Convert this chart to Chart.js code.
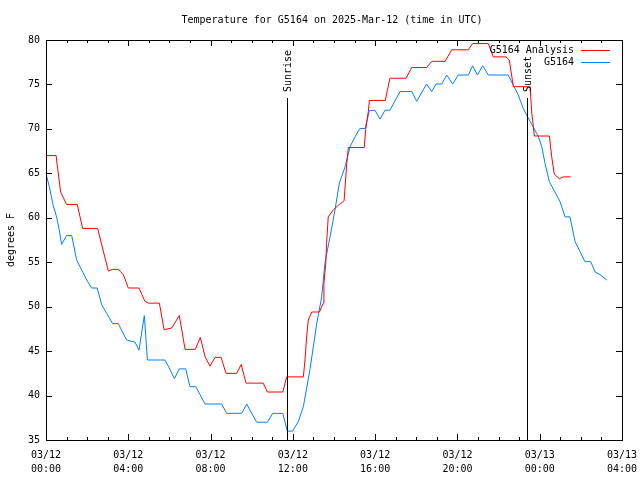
<!DOCTYPE html>
<html lang="en">
<head>
  <meta charset="UTF-8" />
  <title>G5164 Temperature</title>
  <style>
    body { margin: 0; background: #fff; }
    #wrap { width: 640px; height: 480px; }
  </style>
</head>
<body>
  <div id="wrap"><canvas id="tempChart" width="640" height="480"></canvas></div>

  <script src="https://cdn.jsdelivr.net/npm/chart.js"></script>
  <script>
    // hours since 03/12 00:00 UTC
    const analysisHours = [0.03, 0.49, 0.71, 1.0, 1.52, 1.78, 2.51, 3.03, 3.24, 3.51, 3.76, 4.0, 4.52, 4.81, 4.97,
      5.51, 5.74, 6.11, 6.48, 6.76, 7.26, 7.5, 7.73, 7.97, 8.22, 8.51, 8.75, 9.27, 9.49, 9.72, 10.56, 10.76,
      11.51, 11.7, 12.51, 12.59, 12.67, 12.75, 12.92, 13.29, 13.48, 13.51, 13.6, 13.64, 13.72, 13.97, 14.21,
      14.49, 14.54, 14.62, 14.7, 15.47, 15.54, 15.67, 15.72, 16.49, 16.59, 16.72, 17.5, 17.78, 18.5, 18.75,
      19.4, 19.72, 20.53, 20.74, 21.5, 21.74, 22.36, 22.52, 22.72, 23.53, 23.61, 23.74, 24.47, 24.58, 24.71,
      24.95, 25.15, 25.51];
    const analysisTemps = [67.0, 67.0, 62.9, 61.5, 61.5, 58.8, 58.8, 54.0, 54.2, 54.2, 53.6, 52.1, 52.1, 50.6, 50.4,
      50.4, 47.4, 47.6, 49.0, 45.2, 45.2, 46.55, 44.4, 43.3, 44.3, 44.3, 42.5, 42.5, 43.5, 41.4, 41.4, 40.4,
      40.4, 42.1, 42.1, 44.0, 46.6, 48.5, 49.4, 49.4, 50.4, 52.6, 54.9, 57.1, 60.1, 60.9, 61.4,
      61.9, 63.5, 66.1, 67.9, 67.9, 69.9, 72.0, 73.2, 73.2, 74.3, 75.7, 75.7, 76.9, 76.9, 77.6,
      77.6, 78.9, 78.9, 79.6, 79.6, 78.1, 78.1, 77.75, 74.75, 74.75, 71.9, 69.2, 69.2, 66.9, 64.9,
      64.4, 64.6, 64.6];

    const obsHours = [0.03, 0.16, 0.35, 0.52, 0.63, 0.76, 1.0, 1.25, 1.49, 1.74, 1.98, 2.22, 2.49, 2.71, 2.95, 3.24,
      3.51, 3.92, 4.33, 4.52, 4.78, 4.93, 5.78, 5.99, 6.24, 6.48, 6.79, 7.0, 7.28, 7.49, 7.73, 8.54, 8.78,
      9.51, 9.76, 10.0, 10.24, 10.76, 11.02, 11.51, 11.73, 11.99, 12.26, 12.51, 12.83, 13.16, 13.4, 13.56,
      13.81, 14.05, 14.26, 14.54, 14.78, 15.02, 15.26, 15.51, 15.72, 15.99, 16.24, 16.48, 16.72, 17.21, 17.78,
      18.02, 18.5, 18.75, 18.96, 19.24, 19.48, 19.77, 20.04, 20.53, 20.74, 20.97, 21.23, 21.5, 22.47, 22.72,
      22.96, 23.2, 23.4, 23.69, 23.93, 24.1, 24.26, 24.47, 24.74, 24.99, 25.23, 25.47, 25.72, 25.96, 26.2,
      26.48, 26.69, 26.93, 27.26];
    const obsTemps = [64.7, 63.5, 61.4, 60.05, 58.8, 57.0, 58.0, 58.0, 55.25, 54.1, 53.0, 52.1, 52.1, 50.2, 49.25, 48.1,
      48.1, 46.25, 46.0, 45.1, 49.0, 44.0, 44.0, 43.1, 41.9, 43.0, 43.0, 41.0, 41.0, 40.1, 39.05, 39.05, 38.0,
      38.0, 39.05, 38.0, 37.0, 37.0, 38.0, 38.0, 36.0, 36.0, 37.05, 38.75, 42.9, 48.1, 51.1, 54.9,
      57.9, 60.9, 63.9, 65.75, 68.0, 69.1, 70.05, 70.05, 72.05, 72.1, 71.1, 72.1, 72.1, 74.2, 74.2,
      73.1, 75.05, 74.2, 75.05, 75.05, 76.06, 75.05, 76.06, 76.06, 77.1, 76.06, 77.1, 76.06, 76.06, 74.9,
      73.8, 72.3, 71.4, 70.2, 69.15, 68.0, 66.1, 64.05, 62.9, 61.8, 60.1, 60.1, 57.3, 56.2, 55.06,
      55.06, 53.9, 53.6, 53.0];

    const xTickLabels = [['03/12', '00:00'], ['03/12', '04:00'], ['03/12', '08:00'], ['03/12', '12:00'],
      ['03/12', '16:00'], ['03/12', '20:00'], ['03/13', '00:00'], ['03/13', '04:00']];
    const sunriseHour = 11.72;
    const sunsetHour = 23.38;

    const FONT = '10px "DejaVu Sans Mono", monospace';

    function toPoints(xs, ys) {
      return xs.map((x, i) => ({ x: x, y: ys[i] }));
    }

    // gnuplot-ish frame: box, inward ticks, sun lines, title, legend
    const gnuplotFrame = {
      id: 'gnuplotFrame',
      afterDraw(chart) {
        const ctx = chart.ctx;
        const a = chart.chartArea;
        const xs = chart.scales.x;
        const ys = chart.scales.y;
        ctx.save();
        ctx.strokeStyle = '#000';
        ctx.lineWidth = 1;
        ctx.strokeRect(Math.round(a.left) + 0.5, Math.round(a.top) + 0.5,
          Math.round(a.right - a.left), Math.round(a.bottom - a.top));

        ctx.beginPath();
        for (let h = 0; h <= 28; h++) {
          const px = Math.round(xs.getPixelForValue(h)) + 0.5;
          const len = h % 4 === 0 ? 6 : 3;
          ctx.moveTo(px, a.bottom); ctx.lineTo(px, a.bottom - len);
          ctx.moveTo(px, a.top); ctx.lineTo(px, a.top + len);
        }
        for (let t = 35; t <= 80; t += 5) {
          const py = Math.round(ys.getPixelForValue(t)) + 0.5;
          ctx.moveTo(a.left, py); ctx.lineTo(a.left + 6, py);
          ctx.moveTo(a.right, py); ctx.lineTo(a.right - 6, py);
        }
        ctx.stroke();

        // sunrise / sunset
        ctx.font = FONT;
        ctx.fillStyle = '#000';
        [[sunriseHour, 'Sunrise'], [sunsetHour, 'Sunset']].forEach(([h, label]) => {
          const px = Math.round(xs.getPixelForValue(h)) + 0.5;
          ctx.beginPath();
          ctx.moveTo(px, 98); ctx.lineTo(px, a.bottom);
          ctx.stroke();
          ctx.save();
          ctx.translate(px + 1, 92);
          ctx.rotate(-Math.PI / 2);
          ctx.textAlign = 'left';
          ctx.textBaseline = 'middle';
          ctx.fillText(label, 0, 0);
          ctx.restore();
        });

        // title
        ctx.textAlign = 'center';
        ctx.textBaseline = 'middle';
        ctx.fillText('Temperature for G5164 on 2025-Mar-12 (time in UTC)', 332, 20);

        // y label
        ctx.save();
        ctx.translate(11, 240);
        ctx.rotate(-Math.PI / 2);
        ctx.fillText('degrees F', 0, 0);
        ctx.restore();

        // legend
        chart.data.datasets.forEach((ds, i) => {
          const y = 50 + i * 12;
          ctx.textAlign = 'right';
          ctx.fillStyle = '#000';
          ctx.fillText(ds.label, 574, y);
          ctx.strokeStyle = ds.borderColor;
          ctx.beginPath();
          ctx.moveTo(581, y + 0.5); ctx.lineTo(610, y + 0.5);
          ctx.stroke();
        });
        ctx.restore();
      }
    };

    const ctx = document.getElementById('tempChart').getContext('2d');
    const tempChart = new Chart(ctx, {
      type: 'line',
      data: {
        datasets: [{
          label: 'G5164 Analysis',
          data: toPoints(analysisHours, analysisTemps),
          borderColor: '#ff0000',
          borderWidth: 1,
          pointRadius: 0,
          tension: 0,
          fill: false
        }, {
          label: 'G5164',
          data: toPoints(obsHours, obsTemps),
          borderColor: '#0080ff',
          borderWidth: 1,
          pointRadius: 0,
          tension: 0,
          fill: false
        }]
      },
      options: {
        responsive: false,
        animation: false,
        devicePixelRatio: 1,
        layout: { padding: { top: 40, right: 18, left: 0, bottom: 0 } },
        plugins: { legend: { display: false }, tooltip: { enabled: false } },
        scales: {
          x: {
            type: 'linear',
            min: 0,
            max: 28,
            afterFit: s => { s.height = 40; s.paddingLeft = 0; s.paddingRight = 0; },
            grid: { display: false, drawTicks: false },
            border: { display: false },
            ticks: {
              stepSize: 4,
              padding: 8,
              maxRotation: 0,
              autoSkip: false,
              color: '#000',
              font: { family: '"DejaVu Sans Mono", monospace', size: 10, lineHeight: 1.4 },
              callback: v => xTickLabels[v / 4]
            }
          },
          y: {
            min: 35,
            max: 80,
            afterFit: s => { s.width = 46; s.paddingTop = 0; s.paddingBottom = 0; },
            grid: { display: false, drawTicks: false },
            border: { display: false },
            ticks: {
              stepSize: 5,
              padding: 6,
              color: '#000',
              font: { family: '"DejaVu Sans Mono", monospace', size: 10 }
            }
          }
        }
      },
      plugins: [gnuplotFrame]
    });
  </script>
</body>
</html>
